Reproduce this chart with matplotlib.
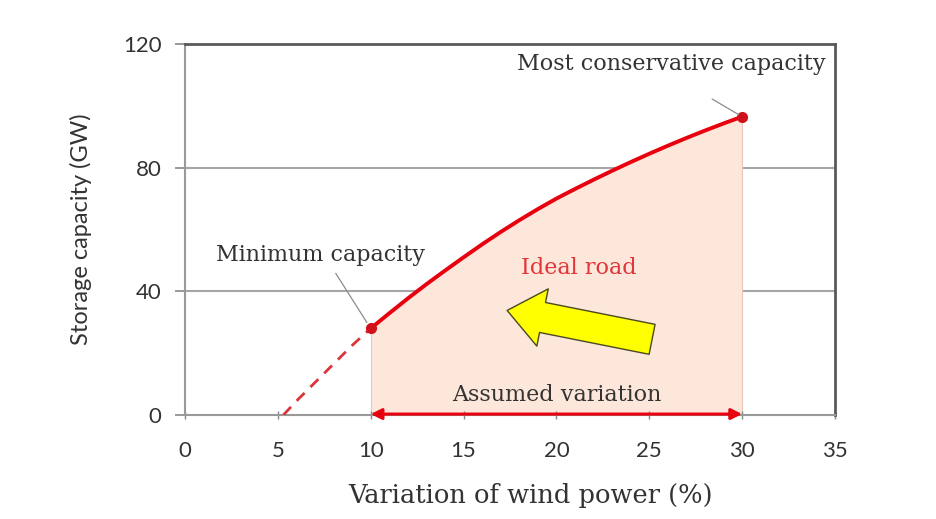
import matplotlib.pyplot as plt
import numpy as np
from matplotlib.patches import FancyArrowPatch

# Storage curve (solid part, inside the assumed range)
x_curve = [10, 11, 12, 13, 14, 15, 16, 17, 18, 19, 20,
           21, 22, 23, 24, 25, 26, 27, 28, 29, 30]
y_curve = [28, 32.9, 37.7, 42.3, 46.7, 51.0, 55.2, 59.2, 63.0, 66.6, 70.0,
           73.1, 76.1, 79.0, 81.8, 84.5, 87.1, 89.6, 92.0, 94.3, 96.5]

# Extrapolated (dashed) part below 10 %
x_dash = [5.3, 6, 7, 8, 9, 10]
y_dash = [0, 4.5, 10.5, 16.5, 22.5, 28]

x_ticks = [0, 5, 10, 15, 20, 25, 30, 35]
y_ticks = [0, 40, 80, 120]

serif = 'DejaVu Serif'
sans = 'Lato'

fig = plt.figure(figsize=(9.37, 5.19), dpi=100)
ax = fig.add_axes([0.1974, 0.2004, 0.6937, 0.7148])

ax.set_xlim(0, 35)
ax.set_ylim(0, 120)

# shaded region under the curve
ax.fill_between(x_curve, 0, y_curve, color='#fde6da', zorder=1, lw=0)
ax.vlines([x_curve[0], x_curve[-1]], 0, [y_curve[0], y_curve[-1]],
          color='#e8c8bc', lw=0.8, zorder=1.5)

# grid
for yv in [40, 80]:
    ax.axhline(yv, color='#a6a6a6', lw=1.5, zorder=0.5)

ax.plot(x_dash, y_dash, color='#d9363c', lw=2, ls=(0, (4, 3)), zorder=3)
ax.plot(x_curve, y_curve, color='#e8000f', lw=2.8, zorder=3,
        solid_capstyle='round', solid_joinstyle='round')
ax.plot([x_curve[0], x_curve[-1]], [y_curve[0], y_curve[-1]], 'o',
        color='#d0101a', ms=7, zorder=4)

# assumed variation double arrow
ax.annotate('', xy=(x_curve[0], 0.3), xytext=(x_curve[-1], 0.3),
            arrowprops=dict(arrowstyle='<|-|>', color='#e8000f', lw=2.2,
                            mutation_scale=16, shrinkA=0, shrinkB=0),
            zorder=5)
ax.text(20, 6.5, 'Assumed variation', ha='center', va='center',
        fontsize=16, family=serif, color='#333333', zorder=6)

ax.text(21.2, 47.5, 'Ideal road', ha='center', va='center',
        fontsize=16, family=serif, color='#e0353a', zorder=6)

# yellow block arrow
arrow = FancyArrowPatch((25.3, 24.3), (17.2, 34.0),
                        arrowstyle='simple,head_width=42,head_length=26,tail_width=22',
                        mutation_scale=1, facecolor='#ffff00',
                        edgecolor='#4a4a20', lw=1.0, zorder=6)
ax.add_patch(arrow)

# callouts
ax.annotate('Most conservative capacity', xy=(30, 96.5), xytext=(26.2, 113.5),
            ha='center', va='center', fontsize=16, family=serif,
            color='#333333',
            arrowprops=dict(arrowstyle='-', color='#8c8c8c', lw=0.9,
                            relpos=(0.5, 0), shrinkA=30, shrinkB=3), zorder=6)
ax.annotate('Minimum capacity', xy=(10, 28), xytext=(7.3, 51.8),
            ha='center', va='center', fontsize=16, family=serif,
            color='#333333',
            arrowprops=dict(arrowstyle='-', color='#8c8c8c', lw=0.9,
                            relpos=(0.55, 0), shrinkA=4, shrinkB=5), zorder=6)

# axes styling
ax.set_xticks(x_ticks)
ax.set_yticks(y_ticks)
ax.tick_params(axis='y', direction='out', length=7, width=1.2,
               color='#888888', labelsize=16, labelcolor='#333333', pad=10)
ax.tick_params(axis='x', direction='inout', length=6, width=1.0,
               color='#888888', labelsize=16, labelcolor='#333333', pad=15.5)
for lab in ax.get_xticklabels() + ax.get_yticklabels():
    lab.set_family(sans)

ax.spines['left'].set_color('#999999')
ax.spines['left'].set_linewidth(1.5)
ax.spines['bottom'].set_color('#999999')
ax.spines['bottom'].set_linewidth(1.5)
ax.spines['top'].set_color('#595959')
ax.spines['top'].set_linewidth(2)
ax.spines['right'].set_color('#595959')
ax.spines['right'].set_linewidth(2)

ax.set_xlabel('Variation of wind power (%)', fontsize=18.5, family=serif,
              color='#333333', labelpad=16)
ax.xaxis.label.set_x(0.531)
ax.set_ylabel('Storage capacity (GW)', fontsize=17, family=sans,
              color='#333333', labelpad=22)

fig.savefig('out.png', dpi=100)
